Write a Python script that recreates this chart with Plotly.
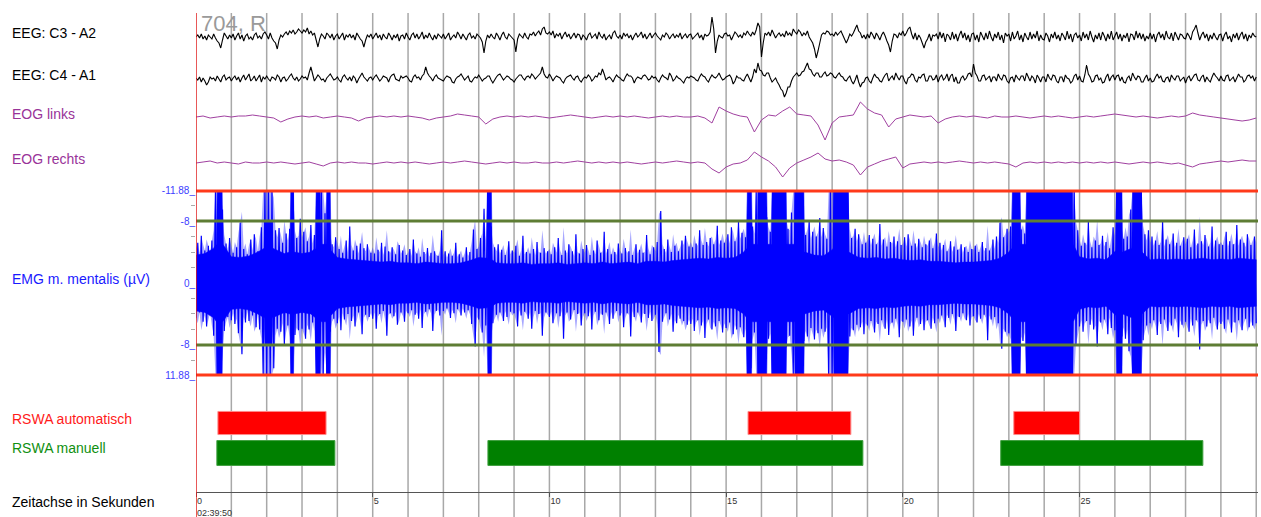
import plotly.graph_objects as go

# ---------------- data ----------------
EEG_DT = 0.05        # s between EEG samples
EMG_DT = 0.05        # s between EMG samples
EOG_DT = 0.2         # s between EOG samples

EEG_C3_A2 = [
    0, 2, -1, 3, -2, 1, -3, 2, 0, -2, 3, -1, -4, -6, -11, -3, 4, 1, -2, 2,
    -1, 3, -3, 1, 4, -2, 2, -4, 1, 3, -2, 0, -3, 2, 4, -1, 1, -2, 3, 5,
    2, -2, 4, -1, -4, -6, -12, -3, 2, 0, 3, 5, 2, 6, 4, 7, 3, 5, 8, 6,
    4, 7, 5, 9, 3, 6, 2, 4, -3, -10, -2, 3, 1, -2, 4, 2, -1, 3, -3, 1,
    3, -2, 1, 4, -3, 2, 0, 3, -1, 2, -3, 4, 1, -2, -4, -10, -3, 2, 0, 3,
    -2, 1, 4, -1, 2, -3, 3, 0, -2, 4, 1, -3, 2, -1, 3, -4, 1, 2, -2, 4,
    0, -3, 2, 4, -1, 3, -2, 1, 5, -2, 2, -1, 4, 0, -3, 2, -2, 3, 1, -1,
    3, -2, 1, 4, -3, 0, 2, -1, 5, 2, -2, 3, 0, -3, 2, 4, -1, 1, -2, 3,
    1, -1, -5, -16, -4, 2, -1, 3, 0, -2, 4, 1, -3, 2, 5, 0, -2, 3, 1, -1,
    -3, -15, -2, 3, 1, -1, 4, 0, -2, 3, 2, 5, 1, 4, 6, 2, 8, 10, 4, 3,
    5, 2, 6, -1, 3, 1, 4, -2, 2, 5, 0, 3, -2, 1, 4, -1, 3, 2, -3, 2,
    0, -3, 2, 4, -1, 1, 3, -2, 5, 1, -1, 3, -3, 0, 2, -2, 4, 6, 1, -1,
    2, -2, 4, 1, 3, -1, 2, -3, 1, 4, 0, 2, 5, -1, 3, -2, 1, 4, -1, 2,
    4, 1, -1, -3, 2, 0, 4, 2, -2, 1, 3, -1, 2, 0, 4, -2, 1, 3, -1, 2,
    3, -2, 0, 2, 4, -1, 2, -3, 3, 1, 2, 5, 20, 8, -16, -4, 2, 0, -1, 3,
    4, 1, 2, -3, 1, 5, 3, 0, 2, -1, 4, 2, 6, 3, 1, 5, 2, 7, 14, 10,
    -20, -6, 4, 2, 5, 1, 7, 3, -1, 2, 4, 1, 3, 0, 6, 2, 4, 1, 8, 5,
    3, 7, 5, 1, 4, 2, 6, 0, -3, -6, -12, -21, -14, -6, 2, 4, 3, 6, 5, 2,
    3, 1, 5, 2, 4, 6, 2, -2, -6, -2, 3, 1, 4, 8, 12, 6, 4, -1, 2, -2,
    3, -1, 5, 2, -2, 4, 1, -3, 2, 5, 1, -4, -8, -15, -4, 3, 2, -1, 4, 2,
    6, 1, 4, 8, 10, 3, -2, 4, -3, 2, -1, -6, -11, -5, -2, 3, -4, 2, 1, 3,
    -2, 5, -1, 4, -5, 3, 1, -3, 5, -2, 3, -4, 2, 6, -1, 4, -3, 2, -5, 3,
    4, -3, 2, -5, 5, 1, -3, 4, -2, 6, 0, -4, 3, -1, 5, -3, 2, -6, 4, 1,
    3, -4, 5, -2, 1, 6, -3, 2, -5, 4, 0, -3, 5, -2, 3, -1, 6, -4, 2, -2,
    -3, 4, 1, -5, 3, -1, 5, -2, 2, -4, 4, 1, -3, 6, -2, 3, -5, 2, 4, -1,
    2, -4, 5, -1, 3, -3, 6, 0, -5, 2, -2, 4, -3, 5, 1, -4, 3, -2, 6, -3,
    1, 5, -2, 3, -4, 2, -1, 4, -5, 3, 2, -3, 6, -1, 4, -2, 3, -4, 1, -2,
    4, -2, 3, -5, 2, 5, -1, 3, -3, 6, 0, -2, 4, -4, 5, 1, -3, 3, 2, -1,
    -2, 4, 1, -3, 5, 8, 12, 4, -3, 2, 5, -1, 3, -4, 2, -2, 4, 0, -3, 2,
    3, -4, 2, 5, -2, 1, -5, 3, -1, 4, -3, 2, 5, -2, 3, -4, 2, -1, 4, 1,
    0,
]

EEG_C4_A1 = [
    1, -1, 2, -3, 1, -2, -6, -3, 2, 0, 1, -2, 3, 0, -3, 2, 4, -1, 1, 2,
    -2, 1, 3, -1, 2, -3, 1, 4, -1, 2, 5, -2, 0, 3, -2, 1, 4, -3, 2, 0,
    3, 0, -2, 2, 1, -1, 4, 2, -3, 1, 2, -2, 0, 3, 5, 1, -1, 2, -2, 0,
    3, 1, 2, -1, 6, 12, 5, -2, 1, 4, 2, -1, 0, -3, 1, 3, 5, 2, -1, 0,
    2, -1, -3, 2, 4, 1, -1, 2, -2, 3, 1, -4, 0, 3, 6, 2, 0, -2, 1, 2,
    -1, 2, 4, 1, -2, 0, 3, 2, 1, -3, 2, 4, 5, 0, -1, -2, 3, 1, 2, 3,
    1, -2, -3, 2, 4, 1, 2, -1, 3, 5, 12, 6, 3, 1, -2, 2, 4, 1, 0, -1,
    -2, 1, 3, 2, 1, -3, -4, 0, 2, 3, 5, 2, -1, 1, 3, -2, -3, 0, 2, 1,
    4, 1, -2, 0, 1, 3, 3, -1, -4, -1, 2, 4, 5, 2, -1, 1, 3, 2, 0, -1,
    -3, 0, 2, 4, 4, 1, -1, 2, 3, 1, 5, 3, 0, 2, 4, 6, 12, 5, 2, 1,
    5, 2, -2, 1, 3, 2, 1, -2, -4, 0, 2, 3, 4, 1, -1, 2, 3, -1, -3, 0,
    2, 1, 4, 2, -2, 0, 3, 2, 6, 4, 10, 5, -1, 1, 2, 0, -3, 1, 4, 2,
    1, -1, -2, 2, 5, 3, 3, 1, -4, 0, 2, 1, 0, 3, 4, 2, -1, 0, 3, 1,
    2, -1, -3, 1, 4, 2, 1, -1, 6, 3, -2, 0, 3, 1, 0, -2, -4, 0, 2, 1,
    3, 2, 1, -1, -2, 2, 5, 3, 2, -1, -3, 1, 4, 2, 1, 3, 6, 2, -1, 0,
    2, 3, 4, 1, -5, -2, 3, 1, 1, -1, -2, 2, 5, 1, -3, 2, 10, 6, 16, 9,
    8, 4, 3, 6, 6, 1, -3, -1, 1, -3, -6, -10, -12, -18, -14, -8, -8, -2, 2, 4,
    6, 3, 4, 7, 8, 12, 16, 10, 9, 5, 3, 6, 6, 2, 2, 5, 7, 3, 4, 6,
    5, 2, 1, 4, 6, 3, 2, -1, -2, 1, 3, -2, -5, -1, 4, -3, -8, -4, -3, 1,
    2, -2, -4, 1, 5, 2, 1, -2, -3, 1, 4, 6, -2, 1, 3, -1, 6, 2, -1, 3,
    3, -2, -5, 1, 2, 5, 4, -1, -3, 2, 1, 4, 5, -2, -2, 3, 3, -1, 0, 4,
    -3, 2, 4, -1, 1, 5, -2, 3, 5, -3, 2, -4, -4, 1, 3, -1, 1, 5, 6, 2,
    15, 6, 3, -2, -2, 3, 4, -1, 1, 3, -3, 2, 2, -2, 5, 1, -1, 4, 3, -2,
    -4, 1, 2, -3, 4, 1, -1, 3, 3, -2, 6, 2, -2, 3, 1, -4, 4, 1, -3, 2,
    2, -3, 5, 1, -1, 4, 3, -2, -4, 2, 2, -3, 4, 1, 0, -4, -2, 3, 5, -1,
    3, -2, -3, 4, 14, 5, 2, -3, -2, 3, 4, -1, 1, -4, -3, 2, 5, -2, 2, 4,
    -1, 3, 4, -2, 2, -3, -4, 1, 3, -2, 6, 2, -1, 3, 2, -3, -3, 1, 4, -2,
    1, -3, -2, 2, 5, 1, 3, -2, -3, 1, 2, -3, 4, 1, -1, 3, 3, -2, 0, 2,
    -4, 1, 3, -2, 1, 4, 5, -1, -2, 2, 4, -3, 2, -1, -3, 2, 6, 3, 1, -2,
    3, -1, -2, 3, 4, -2, 0, 2, -3, 1, 5, 2, 2, -3, -1, 3, 4, 1, 3, -2,
    2,
]

EOG_LINKS = [
    0, 1, -1, 0, 1,
    0, 1, 1, 2, 1,
    0, -1, -5, -2, 0,
    1, 0, 1, -1, 0,
    1, 0, -1, -4, -1,
    0, 1, 0, 1, 0,
    1, 0, -1, -3, -1,
    0, 1, 3, 2, 1,
    0, -7, -2, 0, 1,
    0, 1, 0, 1, 0,
    -1, 0, 1, 2, 1,
    0, -1, 0, 1, 0,
    1, 0, 1, 0, -1,
    0, 1, 0, 1, 0,
    0, 1, -1, -6, 10,
    6, 3, 1, 0, -15,
    -3, 2, 1, 6, 10,
    3, 2, 1, -8, -23,
    -6, 0, 1, 2, 15,
    8, 4, 2, -10, -2,
    0, 2, 1, 0, 1,
    -6, -2, 0, 1, 0,
    1, 0, -1, 1, 0,
    0, 1, 0, -1, 0,
    1, 0, 1, 0, -1,
    0, 1, 0, 1, 2,
    3, 2, 1, 0, 1,
    0, -1, 0, 1, 0,
    1, 4, 2, 1, 0,
    -1, -2, -3, -4, -3,
    -1,
]

EOG_RECHTS = [
    0, 1, 2, 0, 1,
    0, -1, 1, 0, 0,
    1, 0, 1, 0, -1,
    0, 1, -1, -3, 0,
    1, 0, 1, 0, 0,
    -1, 0, 1, 0, 1,
    0, 1, 0, -1, 0,
    1, 0, 1, 2, 1,
    0, -1, 0, 1, 0,
    1, 0, 0, 1, 0,
    0, 1, 0, 1, 2,
    1, 0, 1, 0, 1,
    0, 1, 0, -1, 0,
    1, 0, 1, 2, 1,
    0, 1, 0, -6, -10,
    -4, -1, 0, 3, 11,
    6, 2, -4, -14, -5,
    0, 3, 6, 10, 4,
    2, 3, 1, -2, -12,
    -4, -1, 2, 4, 6,
    -5, -1, 0, 1, 0,
    1, 0, 1, 2, 1,
    0, 1, 0, 1, 0,
    -1, -4, 0, 1, 0,
    1, 0, 1, 0, 1,
    0, 1, 0, 1, 0,
    1, 0, -1, 0, 1,
    0, 1, 0, -1, 0,
    -2, -4, -1, 0, 1,
    2, 1, 2, 3, 2,
    2,
]

EMG_MENTALIS = [
    4.5, -5.2, 3.8, -6.1, 5.0, -4.2, 5.6, -4.8, 3.9, -5.5, 6.8, -11.88, 11.88, -11.88, 11.88, -9.5, 6.2, -5.1, 4.4, -5.8,
    4.8, -3.9, 5.3, -4.6, 6.5, -7.8, 9.2, -4.4, 5.1, -3.7, 4.9, -5.6, 4.2, -6.3, 5.7, -4.1, 6.0, -7.2, 11.88, -11.88,
    11.88, -11.88, 11.88, -11.88, 11.0, -6.8, 5.9, -7.1, 6.3, -5.2, 8.1, -6.4, 5.5, -7.0, 11.88, -11.88, 6.7, -5.8, 6.1, -8.3,
    5.9, -6.6, 7.2, -5.4, 6.0, -7.5, 5.1, -6.2, 11.88, -11.88, 8.0, -11.88, 11.88, -9.0, 11.88, -11.88, 6.3, -5.0, 4.6, -5.9,
    5.2, -4.4, 6.1, -3.9, 4.7, -5.5, 4.0, -7.3, 4.9, -4.2, 5.6, -4.8, 3.8, -5.1, 6.6, -4.5, 4.1, -5.0, 4.4, -3.9,
    4.6, -3.8, 5.9, -4.3, 4.0, -5.2, 3.6, -4.7, 6.8, -4.1, 3.9, -4.6, 4.3, -3.7, 5.4, -4.9, 3.8, -4.2, 5.0, -3.6,
    3.9, -4.4, 3.5, -5.6, 4.1, -3.8, 4.6, -3.4, 5.8, -4.0, 3.7, -4.5, 3.4, -3.9, 6.2, -4.1, 3.6, -3.5, 4.2, -6.8,
    3.6, -4.1, 3.3, -3.8, 4.5, -3.5, 3.9, -5.2, 3.4, -3.7, 4.2, -3.3, 3.8, -4.6, 3.5, -4.0, 5.3, -6.9, 8.2, -4.4,
    4.7, -5.8, 6.4, -9.6, 5.5, -11.88, 11.88, -7.3, 5.2, -4.6, 4.1, -5.0, 3.8, -4.3, 4.9, -3.6, 4.4, -5.4, 3.7, -4.2,
    3.9, -4.8, 5.6, -3.5, 4.2, -6.1, 3.7, -4.0, 4.6, -3.8, 5.9, -4.4, 3.6, -5.3, 4.0, -3.9, 6.8, -4.5, 3.8, -4.1,
    4.4, -3.7, 5.2, -4.6, 3.9, -5.8, 4.3, -3.6, 7.2, -4.2, 3.8, -5.0, 4.7, -4.1, 3.5, -6.3, 4.0, -3.8, 5.5, -4.4,
    3.9, -4.9, 4.3, -3.6, 6.0, -4.2, 3.7, -5.5, 4.8, -3.9, 4.1, -6.6, 3.8, -4.4, 5.3, -3.7, 4.6, -4.0, 3.6, -5.1,
    4.2, -3.8, 5.7, -4.5, 3.9, -4.1, 6.9, -3.6, 4.4, -5.0, 3.8, -4.3, 5.1, -3.9, 4.0, -6.2, 4.5, -3.7, 4.9, -4.6,
    4.1, -5.3, 8.9, -9.3, 5.0, -4.4, 3.9, -5.6, 4.7, -4.0, 6.3, -4.8, 5.2, -4.1, 4.6, -5.5, 4.9, -6.1, 5.4, -4.7,
    5.3, -4.6, 6.2, -5.1, 4.8, -6.8, 5.5, -4.9, 7.1, -5.3, 4.7, -5.8, 6.0, -5.0, 5.6, -7.4, 4.9, -5.5, 6.4, -5.2,
    5.8, -6.3, 5.1, -7.2, 6.6, -5.4, 6.0, -7.9, 5.7, -6.5, 7.0, -5.9, 11.88, -11.88, 11.0, -7.3, 6.4, -11.88, 11.88, -11.88,
    11.88, -11.88, 11.88, -8.5, 7.2, -6.6, 11.88, -11.88, 11.88, -11.88, 11.88, -11.88, 11.88, -11.88, 8.3, -7.0, 6.8, -9.1, 11.88, -11.88,
    11.88, -11.88, 11.88, -11.88, 7.5, -6.2, 6.9, -8.0, 5.8, -6.6, 7.3, -6.0, 6.5, -8.4, 5.9, -7.1, 6.3, -5.7, 11.88, -11.88,
    11.88, -11.88, 11.88, -11.88, 11.88, -11.88, 10.5, -11.88, 11.88, -11.88, 6.9, -5.8, 6.1, -7.0, 5.4, -6.3, 5.7, -5.0, 6.6, -5.2,
    5.5, -6.2, 4.9, -5.7, 6.4, -5.0, 5.3, -7.6, 4.8, -5.6, 5.9, -4.7, 6.7, -5.3, 5.1, -6.0, 4.6, -5.4, 7.0, -4.9,
    5.0, -5.9, 4.7, -6.3, 5.6, -4.8, 6.8, -5.1, 4.5, -5.7, 5.3, -4.6, 6.1, -5.0, 4.8, -5.5, 5.9, -4.5, 5.2, -6.4,
    4.6, -5.2, 4.2, -4.9, 5.7, -4.1, 4.5, -5.4, 4.0, -4.7, 6.2, -4.3, 4.4, -5.0, 3.9, -4.6, 4.8, -4.0, 5.5, -4.4,
    4.3, -4.8, 5.1, -4.0, 4.6, -5.3, 4.1, -4.5, 7.4, -4.2, 4.7, -5.6, 4.4, -6.0, 5.2, -7.8, 8.5, -5.9, 6.3, -7.0,
    6.5, -7.3, 11.88, -11.88, 11.88, -11.88, 11.88, -6.9, 7.5, -6.4, 11.88, -11.88, 11.88, -11.88, 11.88, -11.88, 11.88, -11.88, 11.88, -11.88,
    11.88, -11.88, 11.88, -11.88, 11.88, -11.88, 11.88, -11.88, 11.88, -11.88, 11.88, -11.88, 11.88, -11.88, 11.88, -11.88, 11.88, -11.88, 7.9, -6.8,
    5.6, -4.8, 6.3, -5.2, 4.9, -7.9, 5.4, -4.6, 6.0, -5.5, 8.2, -4.9, 5.1, -6.1, 4.7, -5.3, 6.6, -4.5, 5.8, -7.2,
    6.1, -11.88, 11.88, -11.88, 6.9, -5.7, 7.2, -6.0, 8.8, -9.5, 11.88, -11.88, 11.88, -11.88, 11.88, -11.88, 7.4, -6.3, 5.5, -6.8,
    5.2, -6.0, 4.8, -5.5, 6.7, -4.9, 5.3, -8.1, 4.7, -5.6, 6.2, -5.0, 5.5, -6.4, 4.6, -5.2, 7.0, -4.8, 5.4, -5.9,
    5.0, -5.7, 6.3, -4.6, 5.5, -6.9, 4.8, -5.1, 8.6, -5.4, 4.9, -6.2, 5.6, -4.7, 5.2, -7.3, 4.5, -5.5, 6.0, -5.0,
    5.3, -4.9, 5.9, -6.6, 4.7, -5.4, 6.4, -5.0, 5.1, -7.5, 4.8, -5.6, 6.1, -5.2, 4.6, -6.3, 5.7, -4.9, 5.5, -6.0,
    5.2,
]

# solid EMG core: breakpoint times (s) and half-widths (µV)
EMG_CORE_T = [
    0.00, 0.25, 0.50, 0.58, 0.60, 0.74, 0.76, 1.00, 1.25, 1.50, 1.75, 1.93, 1.95, 2.15, 2.17,
    2.50, 2.66, 2.68, 2.76, 2.78, 3.00, 3.25, 3.38, 3.40, 3.52, 3.54, 3.68, 3.70, 3.80, 3.82,
    4.00, 4.25, 4.50, 4.75, 5.00, 5.25, 5.50, 5.75, 6.00, 6.25, 6.50, 6.75, 7.00, 7.25, 7.50,
    7.75, 8.00, 8.24, 8.26, 8.36, 8.38, 8.50, 8.75, 9.00, 9.25, 9.50, 9.75, 10.00, 10.25, 10.50,
    10.75, 11.00, 11.25, 11.50, 11.75, 12.00, 12.25, 12.50, 12.75, 13.00, 13.25, 13.50, 13.75, 14.00, 14.25,
    14.50, 14.75, 15.00, 15.25, 15.50, 15.58, 15.60, 15.72, 15.74, 15.88, 15.90, 16.15, 16.17, 16.28, 16.30,
    16.70, 16.72, 16.93, 16.95, 17.20, 17.22, 17.50, 17.75, 18.00, 18.03, 18.05, 18.45, 18.47, 18.75, 19.00,
    19.25, 19.50, 19.75, 20.00, 20.25, 20.50, 20.75, 21.00, 21.25, 21.50, 21.75, 22.00, 22.25, 22.50, 22.75,
    23.00, 23.08, 23.10, 23.32, 23.34, 23.48, 23.50, 24.80, 24.82, 25.00, 25.25, 25.50, 25.75, 26.03, 26.05,
    26.20, 26.22, 26.48, 26.50, 26.75, 26.77, 27.00, 27.25, 27.50, 27.75, 28.00, 28.25, 28.50, 28.75, 29.00,
    29.25, 29.50, 29.75, 30.00,
]
EMG_CORE_A = [
    3.6, 3.8, 4.5, 5.0, 11.88, 11.88, 5.0, 3.4, 3.3, 3.5, 4.0, 4.5, 8.0, 8.0, 4.5,
    3.8, 4.0, 11.88, 11.88, 4.0, 3.8, 4.0, 4.5, 11.88, 11.88, 5.0, 5.0, 11.88, 11.88, 4.2,
    3.3, 3.1, 3.0, 2.9, 2.8, 2.7, 2.8, 2.6, 2.6, 2.5, 2.7, 2.6, 2.5, 2.5, 2.6,
    2.9, 3.3, 3.2, 11.88, 11.88, 3.0, 2.6, 2.5, 2.5, 2.6, 2.4, 2.5, 2.5, 2.6, 2.4,
    2.5, 2.6, 2.5, 2.7, 2.5, 2.6, 2.7, 2.5, 2.8, 2.8, 2.7, 2.9, 3.0, 3.1, 3.2,
    3.1, 3.3, 3.2, 3.3, 4.0, 4.5, 11.88, 11.88, 5.0, 5.0, 11.88, 11.88, 5.0, 5.0, 11.88,
    11.88, 5.0, 5.0, 11.88, 11.88, 4.0, 3.6, 3.5, 4.3, 4.5, 11.88, 11.88, 4.0, 3.3, 3.2,
    3.3, 3.1, 3.2, 3.0, 2.9, 3.0, 2.8, 2.8, 2.7, 2.6, 2.7, 2.7, 2.8, 2.9, 3.2,
    4.0, 4.5, 11.88, 11.88, 5.0, 5.0, 11.88, 11.88, 5.0, 3.4, 3.1, 3.2, 3.0, 4.2, 11.88,
    11.88, 4.0, 4.5, 11.88, 11.88, 4.0, 3.0, 3.1, 3.0, 3.1, 3.0, 3.1, 3.2, 3.0, 3.1,
    3.0, 3.2, 3.1, 3.0,
]

EMG_LIMIT = 11.88      # outer threshold (red)
EMG_THRESH = 8         # inner threshold (green)
EMG_TICKVALS = [-11.88, -8, 0, 8, 11.88]
EMG_TICKTEXT = ["-11.88_", "-8_", "0_", "-8_", "11.88_"]
EMG_MINOR = [-10, -6, -4, -2, 2, 4, 6, 10]

RSWA_AUTO_START = [0.62, 15.62, 23.14]
RSWA_AUTO_END = [3.68, 18.53, 25.0]
RSWA_MAN_START = [0.59, 8.26, 22.77]
RSWA_MAN_END = [3.93, 18.87, 28.49]

TIME_TICKS = [0, 5, 10, 15, 20, 25]
TIME_TICKTEXT = ["0<br>02:39:50", "5", "10", "15", "20", "25"]
T_MAX = 30.05

# ---------------- layout helpers ----------------
W, H = 1261, 517
ML, MR, MT, MB = 196, 3, 13, 0
PH = H - MT - MB
PW = W - ML - MR


def py(y):   # pixel row -> paper y
    return (H - MB - y) / PH


def px(x):   # pixel column -> paper x
    return (x - ML) / PW


FONT = "Liberation Sans, Arial, sans-serif"

fig = go.Figure()


def times(n, dt):
    return [i * dt for i in range(n)]


def trace_line(color, width=1.0):
    return dict(color=color, width=width, simplify=False)


fig.add_trace(go.Scatter(x=times(len(EEG_C3_A2), EEG_DT), y=EEG_C3_A2, yaxis="y",
                         mode="lines", line=trace_line("black", 1.1), hoverinfo="skip"))
fig.add_trace(go.Scatter(x=times(len(EEG_C4_A1), EEG_DT), y=EEG_C4_A1, yaxis="y2",
                         mode="lines", line=trace_line("black", 1.1), hoverinfo="skip"))
fig.add_trace(go.Scatter(x=times(len(EOG_LINKS), EOG_DT), y=EOG_LINKS, yaxis="y3",
                         mode="lines", line=trace_line("#a040a0"), hoverinfo="skip"))
fig.add_trace(go.Scatter(x=times(len(EOG_RECHTS), EOG_DT), y=EOG_RECHTS, yaxis="y4",
                         mode="lines", line=trace_line("#a040a0"), hoverinfo="skip"))

# EMG: light envelope of the spikes, solid core band, then the signal itself
emg_t = times(len(EMG_MENTALIS), EMG_DT)
fig.add_trace(go.Scatter(x=emg_t + emg_t[::-1],
                         y=[-abs(v) for v in EMG_MENTALIS] + [abs(v) for v in EMG_MENTALIS[::-1]],
                         yaxis="y5", mode="lines", fill="toself",
                         fillcolor="rgba(60,60,255,0.45)",
                         line=dict(width=0, simplify=False), hoverinfo="skip"))
fig.add_trace(go.Scatter(x=EMG_CORE_T + EMG_CORE_T[::-1],
                         y=[-a for a in EMG_CORE_A] + [a for a in EMG_CORE_A[::-1]],
                         yaxis="y5", mode="lines", fill="toself", fillcolor="#0000ff",
                         line=dict(color="#0000ff", width=0.5, simplify=False), hoverinfo="skip"))
fig.add_trace(go.Scatter(x=emg_t, y=EMG_MENTALIS, yaxis="y5",
                         mode="lines", line=trace_line("#0000ff", 1.2), hoverinfo="skip"))

# RSWA bars
fig.add_trace(go.Bar(
    orientation="h", yaxis="y6",
    base=RSWA_AUTO_START,
    x=[e - s for s, e in zip(RSWA_AUTO_START, RSWA_AUTO_END)],
    y=[1] * len(RSWA_AUTO_START), width=0.77,
    marker=dict(color="#ff0000", line=dict(color="#ff8a8a", width=1)), hoverinfo="skip"))
fig.add_trace(go.Bar(
    orientation="h", yaxis="y6",
    base=RSWA_MAN_START,
    x=[e - s for s, e in zip(RSWA_MAN_START, RSWA_MAN_END)],
    y=[0] * len(RSWA_MAN_START), width=0.83,
    marker=dict(color="#008000", line=dict(color="#40a040", width=1)), hoverinfo="skip"))

hidden_y = dict(showgrid=False, zeroline=False, showticklabels=False, showline=False,
                ticks="", anchor="x", fixedrange=True, automargin=False)

fig.update_layout(
    width=W, height=H,
    margin=dict(l=ML, r=MR, t=MT, b=MB, autoexpand=False),
    paper_bgcolor="white", plot_bgcolor="rgba(0,0,0,0)",
    showlegend=False, barmode="overlay",
    font=dict(family=FONT),
    xaxis=dict(range=[0, T_MAX], domain=[0, 1], anchor="free", position=py(492),
               automargin=False, fixedrange=True,
               showgrid=False, zeroline=False, showline=True, linecolor="#555555", linewidth=1,
               ticks="outside", ticklen=4, tickcolor="#555555",
               tickvals=TIME_TICKS, ticktext=TIME_TICKTEXT,
               ticklabelposition="outside right",
               tickfont=dict(size=9, color="#333333", family=FONT)),
    yaxis=dict(domain=[py(61), py(13)], range=[-24, 24], **hidden_y),
    yaxis2=dict(domain=[py(103), py(55)], range=[-24, 24], **hidden_y),
    yaxis3=dict(domain=[py(147), py(87)], range=[-30, 30], **hidden_y),
    yaxis4=dict(domain=[py(193), py(133)], range=[-30, 30], **hidden_y),
    yaxis5=dict(domain=[py(377.5), py(188.5)], range=[12.2, -12.2],
                anchor="x", showgrid=False, zeroline=False, showline=False, automargin=False,
                tickvals=EMG_TICKVALS, ticktext=EMG_TICKTEXT, ticks="",
                tickfont=dict(size=10, color="#4040ff", family=FONT),
                minor=dict(tickvals=EMG_MINOR, ticks="outside", ticklen=4, tickcolor="#aaaaaa"),
                fixedrange=True),
    yaxis6=dict(domain=[py(483), py(393)], range=[-1, 2], **hidden_y),
)

shapes = []
# one-second grid lines
for s in range(1, int(T_MAX) + 1):
    shapes.append(dict(type="line", xref="x", yref="paper", x0=s, x1=s, y0=0, y1=1,
                       line=dict(color="#a8a8a8", width=1.5), layer="below"))
# EMG thresholds
for v in (-EMG_LIMIT, EMG_LIMIT):
    shapes.append(dict(type="line", xref="paper", yref="y5", x0=0, x1=1, y0=v, y1=v,
                       line=dict(color="#ff3a1a", width=3), layer="above"))
for v in (-EMG_THRESH, EMG_THRESH):
    shapes.append(dict(type="line", xref="paper", yref="y5", x0=0, x1=1, y0=v, y1=v,
                       line=dict(color="#5e7d34", width=3), layer="above"))
# left red border
shapes.append(dict(type="line", xref="x", yref="paper", x0=0, x1=0, y0=0, y1=1,
                   line=dict(color="#e02020", width=1.5), layer="above"))
fig.update_layout(shapes=shapes)

labels = [
    ("EEG: C3 - A2", 33, "black"),
    ("EEG: C4 - A1", 75, "black"),
    ("EOG links", 114, "#993399"),
    ("EOG rechts", 159, "#993399"),
    ("EMG m. mentalis (µV)", 279, "#1a1aff"),
    ("RSWA automatisch", 419, "#ff1a1a"),
    ("RSWA manuell", 448, "#109010"),
    ("Zeitachse in Sekunden", 502, "black"),
]
ann = []
for text, y, col in labels:
    ann.append(dict(text=text, xref="paper", yref="paper", x=px(10), y=py(y),
                    xanchor="left", yanchor="middle", showarrow=False,
                    font=dict(size=14, color=col, family=FONT)))
ann.append(dict(text="704, R", xref="paper", yref="paper", x=px(199), y=py(9),
                xanchor="left", yanchor="top", showarrow=False,
                font=dict(size=22, color="#9a9a9a", family=FONT)))
fig.update_layout(annotations=ann)

fig.write_html("out.html", config={"displayModeBar": False},
               post_script="document.body.style.margin='0px';")
